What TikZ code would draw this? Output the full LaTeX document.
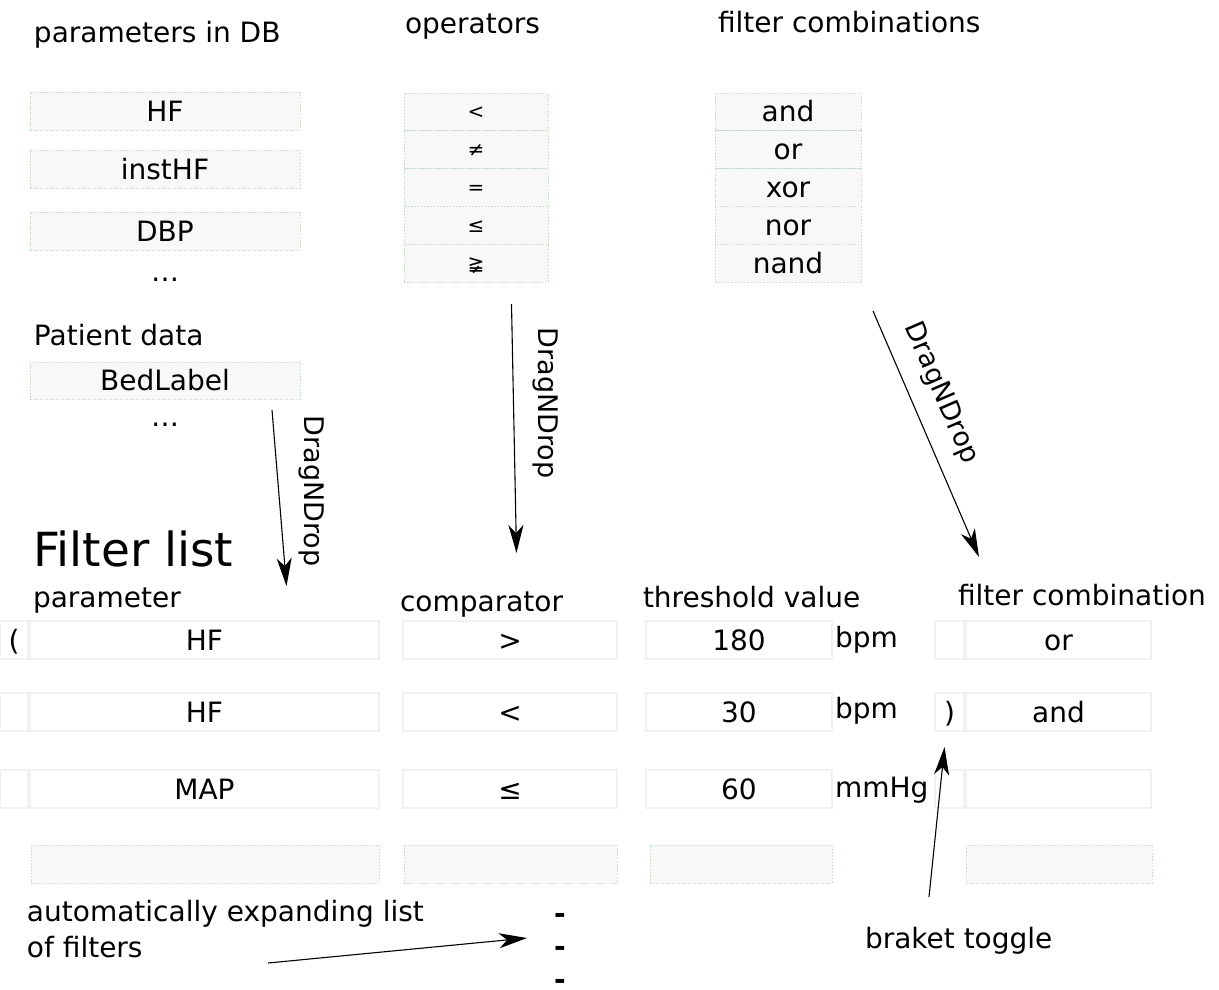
\documentclass[tikz,border=0pt]{standalone}
\usepackage{fontspec}
\setmainfont{DejaVu Sans}
\usetikzlibrary{arrows.meta}
\definecolor{cellfill}{RGB}{248,248,248}
\definecolor{celldots}{RGB}{200,222,200}
\definecolor{rowedge}{RGB}{241,241,241}
\begin{document}
\begin{tikzpicture}[x=1pt,y=-1pt,
  every node/.style={inner sep=0pt, outer sep=0pt, font=\fontsize{28}{33}\selectfont},
  lbl/.style={anchor=base west},
  cell/.style={anchor=north west, text height=20pt, text depth=0pt, align=center},
  poolcell/.style={cell, fill=cellfill, draw=celldots, line width=1pt, dash pattern=on 1.6pt off 1.6pt},
  rowcell/.style={cell, fill=white, draw=rowedge, line width=1.3pt},
  opcell/.style={poolcell, font=\fontsize{20}{24}\selectfont, text height=14pt},
  sz/.style 2 args={minimum width=#1pt, minimum height=#2pt},
  dragarrow/.style={-{Stealth[length=28pt,width=15pt,inset=8pt]}, line width=1.1pt},
  draglbl/.style={font=\fontsize{27}{30}\selectfont},
  dashmark/.style={font=\bfseries\fontsize{28}{33}\selectfont},
]
\useasboundingbox (0,0) rectangle (1219,989);
\fill[white] (0,0) rectangle (1219,989);

% ---------- source pools ----------
\node[lbl] (hdrParams) at (34,42) {parameters in DB};
\node[lbl] (hdrOps) at (405,33) {operators};
\node[lbl] (hdrComb) at (718,32) {filter combinations};

% parameters in the database
\node[poolcell, sz={270}{38}] (pHF) at (30,92) {HF};
\node[poolcell, sz={270}{38}] (pInst) at (30,150) {instHF};
\node[poolcell, sz={270}{38}] (pDBP) at (30,212) {DBP};
\node[anchor=base] (pDots) at (165,281) {…};

\node[lbl] (hdrPatient) at (34,345) {Patient data};
\node[poolcell, sz={270}{37}] (pBed) at (30,362) {BedLabel};
\node[anchor=base] (pDots2) at (165,426) {…};

% operators
\node[opcell, sz={144}{37.8}] (op1) at (404,93) {<};
\node[opcell, sz={144}{37.8}] (op2) at (404,130.8) {≠};
\node[opcell, sz={144}{37.8}] (op3) at (404,168.6) {=};
\node[opcell, sz={144}{37.8}] (op4) at (404,206.4) {≤};
\node[opcell, sz={144}{37.8}] (op5) at (404,244.2) {≩};

% filter combinations
\node[poolcell, sz={146}{37.8}] (cb1) at (715,93) {and};
\node[poolcell, sz={146}{37.8}] (cb2) at (715,130.8) {or};
\node[poolcell, sz={146}{37.8}] (cb3) at (715,168.6) {xor};
\node[poolcell, sz={146}{37.8}] (cb4) at (715,206.4) {nor};
\node[poolcell, sz={146}{37.8}] (cb5) at (715,244.2) {nand};

% ---------- filter list ----------
\node[lbl, font=\fontsize{47}{54}\selectfont] (title) at (33,566) {Filter list};
\node[lbl] (hdrParam) at (33,607) {parameter};
\node[lbl] (hdrComp) at (400,611) {comparator};
\node[lbl] (hdrThr) at (643,607) {threshold value};
\node[lbl] (hdrFc) at (958,605) {filter combination};

% row 1
\node[rowcell, sz={28}{38}] (lb1) at (0,621) {(};
\node[rowcell, sz={349}{38}] (par1) at (30,621) {HF};
\node[rowcell, sz={214}{38}] (cmp1) at (403,621) {>};
\node[rowcell, sz={186}{38}] (thr1) at (646,621) {180};
\node[lbl] (unit1) at (835,647) {bpm};
\node[rowcell, sz={29}{38}] (rb1) at (935,621) {};
\node[rowcell, sz={185}{38}] (fc1) at (966,621) {or};

% row 2
\node[rowcell, sz={28}{38}] (lb2) at (0,693) {};
\node[rowcell, sz={349}{38}] (par2) at (30,693) {HF};
\node[rowcell, sz={214}{38}] (cmp2) at (403,693) {<};
\node[rowcell, sz={186}{38}] (thr2) at (646,693) {30};
\node[lbl] (unit2) at (835,718) {bpm};
\node[rowcell, sz={29}{38}] (rb2) at (935,693) {)};
\node[rowcell, sz={185}{38}] (fc2) at (966,693) {and};

% row 3
\node[rowcell, sz={28}{38}] (lb3) at (0,770) {};
\node[rowcell, sz={349}{38}] (par3) at (30,770) {MAP};
\node[rowcell, sz={214}{38}] (cmp3) at (403,770) {≤};
\node[rowcell, sz={186}{38}] (thr3) at (646,770) {60};
\node[lbl] (unit3) at (835,797) {mmHg};
\node[rowcell, sz={29}{38}] (rb3) at (935,770) {};
\node[rowcell, sz={185}{38}] (fc3) at (966,770) {};

% row 4 (placeholder for the next filter)
\node[poolcell, sz={348}{38}] (par4) at (31,845) {};
\node[poolcell, sz={213}{38}] (cmp4) at (404,845) {};
\node[poolcell, sz={182}{38}] (thr4) at (650,845) {};
\node[poolcell, sz={186}{38}] (fc4) at (966,845) {};

% ---------- drag and drop arrows ----------
\coordinate (dragParS) at (272,410);
\coordinate (dragParE) at (286.5,586);
\draw[dragarrow] (dragParS) -- (dragParE);
\node[draglbl, rotate=-90] (dragParL) at (312,491) {DragNDrop};

\coordinate (dragOpS) at (511.5,304);
\coordinate (dragOpE) at (516.5,553);
\draw[dragarrow] (dragOpS) -- (dragOpE);
\node[draglbl, rotate=-90] (dragOpL) at (545.5,403) {DragNDrop};

\coordinate (dragCbS) at (873,311);
\coordinate (dragCbE) at (979,557);
\draw[dragarrow] (dragCbS) -- (dragCbE);
\node[draglbl, rotate=-66.7] (dragCbL) at (941,393) {DragNDrop};

% ---------- annotations ----------
\node[lbl] (noteA) at (27,921) {automatically expanding list};
\node[lbl] (noteB) at (27,957) {of filters};
\node[dashmark] (dash1) at (560,918) {-};
\node[dashmark] (dash2) at (560,951) {-};
\node[dashmark] (dash3) at (560,984) {-};
\coordinate (expS) at (268,963);
\coordinate (expE) at (527,938);
\draw[dragarrow] (expS) -- (expE);

\node[lbl] (toggle) at (865,948) {braket toggle};
\coordinate (togS) at (929,897);
\coordinate (togE) at (944.5,747);
\draw[dragarrow] (togS) -- (togE);
\end{tikzpicture}
\end{document}
